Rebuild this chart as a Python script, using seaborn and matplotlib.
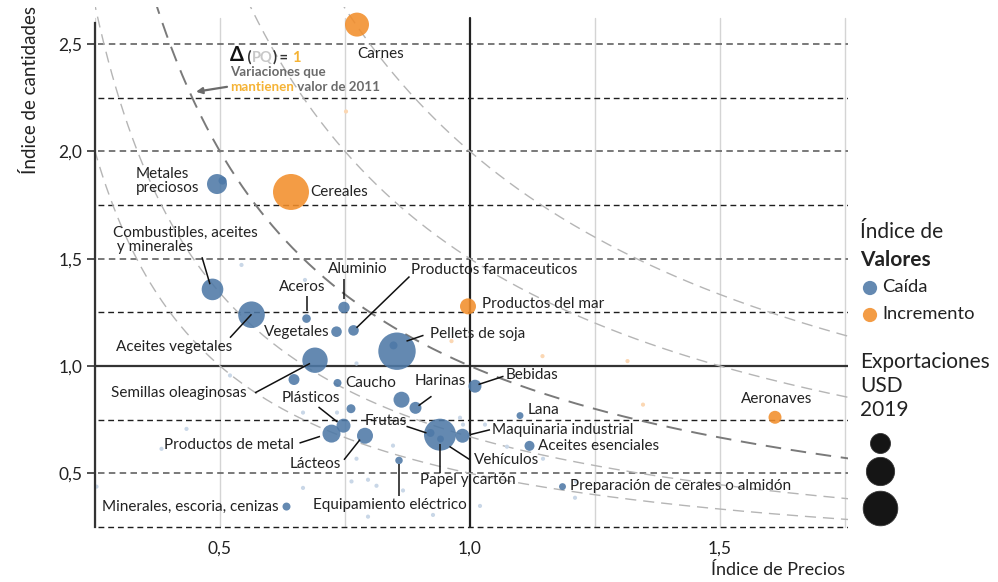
import numpy as np
import pandas as pd
import matplotlib
matplotlib.use("Agg")
import matplotlib.pyplot as plt
import seaborn as sns

# ---------------- data ----------------
productos = ["Carnes", "Metales preciosos", "Metales (otros)", "Cereales",
             "Combustibles, aceites y minerales", "Aceites vegetales", "Aceros",
             "Aluminio", "Vegetales", "Productos farmaceuticos", "Pellets de soja",
             "Pellets (otros)", "Semillas oleaginosas", "Otros A", "Caucho", "Otros B",
             "Harinas", "Otros C", "Plásticos", "Productos de metal", "Lácteos",
             "Equipamiento eléctrico", "Minerales, escoria, cenizas", "Vehículos",
             "Frutas", "Papel y cartón", "Maquinaria industrial", "Bebidas", "Lana",
             "Aceites esenciales", "Preparación de cerales o almidón", "Aeronaves",
             "Productos del mar"]
precios = [0.774, 0.494, 0.505, 0.642, 0.485, 0.563, 0.673, 0.748, 0.733, 0.767,
           0.854, 0.847, 0.690, 0.648, 0.735, 0.863, 0.891, 0.762, 0.747, 0.723,
           0.790, 0.858, 0.633, 0.940, 0.921, 0.941, 0.985, 1.010, 1.100, 1.119,
           1.185, 1.610, 0.996]
cantidades = [2.591, 1.848, 1.864, 1.811, 1.357, 1.239, 1.221, 1.273, 1.160, 1.166,
              1.069, 1.096, 1.027, 0.937, 0.921, 0.843, 0.805, 0.801, 0.722, 0.685,
              0.675, 0.560, 0.345, 0.680, 0.688, 0.660, 0.675, 0.906, 0.769, 0.628,
              0.438, 0.761, 1.278]
exportaciones = [1440, 1000, 160, 3240, 1170, 1770, 185, 325, 280, 280,
                 3500, 160, 1610, 300, 160, 640, 360, 200, 490, 810,
                 640, 140, 160, 2560, 160, 120, 490, 420, 120, 250,
                 120, 420, 640]
tendencia = ["Incremento", "Caída", "Caída", "Incremento", "Caída", "Caída", "Caída",
             "Caída", "Caída", "Caída", "Caída", "Caída", "Caída", "Caída", "Caída",
             "Caída", "Caída", "Caída", "Caída", "Caída", "Caída", "Caída", "Caída",
             "Caída", "Caída", "Caída", "Caída", "Caída", "Caída", "Caída", "Caída",
             "Incremento", "Incremento"]

# minor products (faint dots)
menores_precio = [0.752, 0.543, 0.670, 0.773, 0.963, 1.145, 1.315, 0.520, 0.433, 0.383,
                  0.666, 0.734, 0.773, 0.846, 0.980, 0.986, 0.666, 0.763, 0.796, 0.813,
                  0.866, 0.926, 0.796, 0.253, 1.030, 1.074, 1.146, 1.212, 1.210, 1.020,
                  1.346]
menores_cantidad = [2.186, 1.471, 1.401, 1.012, 1.116, 1.046, 1.023, 0.956, 0.707, 0.614,
                    0.783, 0.783, 0.568, 0.629, 0.759, 0.727, 0.432, 0.462, 0.470, 0.442,
                    0.420, 0.306, 0.298, 0.438, 0.727, 0.624, 0.568, 0.462, 0.386, 0.348,
                    0.820]
menores_tendencia = ["Incremento", "Caída", "Caída", "Caída", "Incremento", "Incremento",
                     "Incremento", "Caída", "Caída", "Caída", "Caída", "Caída", "Caída",
                     "Caída", "Caída", "Caída", "Caída", "Caída", "Caída", "Caída", "Caída",
                     "Caída", "Caída", "Caída", "Caída", "Caída", "Caída", "Caída", "Caída",
                     "Caída", "Incremento"]

niveles_pq = [0.5, 0.67, 1.0, 1.5, 2.0]
xticks = [0.5, 1.0, 1.5]
xtick_labels = ["0,5", "1,0", "1,5"]
yticks = [0.5, 1.0, 1.5, 2.0, 2.5]
ytick_labels = ["0,5", "1,0", "1,5", "2,0", "2,5"]
legend_sizes = [1000, 2000, 3000]

df = pd.DataFrame({"producto": productos, "precio": precios, "cantidad": cantidades,
                   "exportaciones": exportaciones, "tendencia": tendencia})
df_men = pd.DataFrame({"precio": menores_precio, "cantidad": menores_cantidad,
                       "tendencia": menores_tendencia})

# ---------------- style ----------------
sns.set_theme(style="white")
plt.rcParams["font.family"] = ["Lato", "DejaVu Sans"]
TXT = "#222222"
BLUE = "#4e79a7"
ORANGE = "#f28e2b"
pal = {"Caída": BLUE, "Incremento": ORANGE}
pal_faint = {"Caída": "#c9d7e7", "Incremento": "#fbd7b3"}

W, H = 998, 582
fig = plt.figure(figsize=(W / 100, H / 100), dpi=100)
ax = fig.add_axes([95 / W, (H - 529.1) / H, 753 / W, 522.1 / H])
XMIN, XMAX, YMIN, YMAX = 0.25, 1.756, 0.24, 2.673
ax.set_xlim(XMIN, XMAX)
ax.set_ylim(YMIN, YMAX)

# grid
for gx in np.arange(0.25, 1.76, 0.25):
    if abs(gx - 1.0) < 1e-9:
        continue
    ax.plot([gx, gx], [0.25, 2.62], color="#d4d4d4", lw=1.0, zorder=0.5)
for gy in np.arange(0.25, 2.51, 0.25):
    if abs(gy - 1.0) < 1e-9:
        continue
    major = abs(gy * 2 - round(gy * 2)) < 1e-9
    ax.plot([0.255, XMAX], [gy, gy], color="#6e6e6e" if major else "#1e1e1e",
            lw=1.3 if major else 1.0, dashes=(3.6, 2.4) if major else (4.2, 2.8), zorder=0.6)
ax.plot([0.25, XMAX], [1.0, 1.0], color="#333333", lw=1.6, zorder=0.7)
ax.plot([1.0, 1.0], [0.25, 2.62], color="#222222", lw=1.6, zorder=0.7)

# iso-value curves
xs = np.linspace(0.2, 1.8, 400)
for lv in niveles_pq:
    if lv == 1.0:
        ax.plot(xs, lv / xs, color="#7a7a7a", lw=1.4, dashes=(8, 5), zorder=0.8)
    else:
        ax.plot(xs, lv / xs, color="#b5b5b5", lw=1.0, dashes=(8, 5), zorder=0.8)

# faint minor products
sns.scatterplot(data=df_men, x="precio", y="cantidad", hue="tendencia", palette=pal_faint,
                s=9, linewidth=0, legend=False, ax=ax, zorder=1)

# leader lines
lineas = [
    ((0.464, 1.507), (0.480, 1.381)),
    ((0.520, 1.132), (0.563, 1.241)),
    ((0.673, 1.326), (0.673, 1.256)),
    ((0.747, 1.404), (0.747, 1.311)),
    ((0.879, 1.417), (0.773, 1.178)),
    ((0.907, 1.143), (0.873, 1.116)),
    ((0.570, 0.875), (0.680, 1.012)),
    ((0.923, 0.859), (0.897, 0.815)),
    ((0.697, 0.809), (0.735, 0.739)),
    ((0.659, 0.641), (0.700, 0.672)),
    ((0.748, 0.563), (0.780, 0.657)),
    ((0.858, 0.392), (0.858, 0.544)),
    ((0.873, 0.719), (0.913, 0.688)),
    ((0.940, 0.501), (0.940, 0.638)),
    ((0.959, 0.625), (1.000, 0.563)),
    ((1.000, 0.680), (1.040, 0.703)),
    ((1.017, 0.914), (1.067, 0.952)),
]
for (x1, y1), (x2, y2) in lineas:
    ax.plot([x1, x2], [y1, y2], color="#111111", lw=1.1, zorder=3, solid_capstyle="butt")

# main bubbles
sns.scatterplot(data=df, x="precio", y="cantidad", hue="tendencia", palette=pal,
                size="exportaciones", sizes=(0, 725), size_norm=(0, 3500),
                alpha=0.88, edgecolor="none", linewidth=0, legend=False, ax=ax,
                zorder=2, clip_on=False)

# spines / ticks (after seaborn, which sets labels)
for s in ["top", "right", "bottom"]:
    ax.spines[s].set_visible(False)
ax.spines["left"].set_color("#333333")
ax.spines["left"].set_linewidth(1.6)
ax.spines["left"].set_bounds(0.25, 2.6)
ax.set_xticks(xticks)
ax.set_xticklabels(xtick_labels)
ax.set_yticks(yticks)
ax.set_yticklabels(ytick_labels)
ax.tick_params(axis="y", length=6, width=1.2, color="#333333", labelsize=12.5,
               labelcolor=TXT, pad=3, left=True)
ax.tick_params(axis="x", length=0, labelsize=12.5, labelcolor=TXT, pad=8)
ax.set_xlabel("")
ax.set_ylabel("")
ax.set_xlim(XMIN, XMAX)
ax.set_ylim(YMIN, YMAX)

# labels
etiquetas = [
    ("Carnes", 0.822, 2.456, "center"),
    ("Metales\npreciosos", 0.332, 1.862, "left"),
    ("Cereales", 0.680, 1.811, "left"),
    ("Combustibles, aceites\n y minerales", 0.286, 1.586, "left"),
    ("Aceites vegetales", 0.292, 1.088, "left"),
    ("Aceros", 0.665, 1.370, "center"),
    ("Aluminio", 0.775, 1.451, "center"),
    ("Vegetales", 0.720, 1.158, "right"),
    ("Productos farmaceuticos", 0.882, 1.448, "left"),
    ("Pellets de soja", 0.919, 1.147, "left"),
    ("Productos del mar", 1.025, 1.287, "left"),
    ("Semillas oleaginosas", 0.281, 0.875, "left"),
    ("Caucho", 0.750, 0.921, "left"),
    ("Harinas", 0.890, 0.929, "left"),
    ("Plásticos", 0.623, 0.851, "left"),
    ("Productos de metal", 0.648, 0.633, "right"),
    ("Lácteos", 0.741, 0.543, "right"),
    ("Equipamiento eléctrico", 0.685, 0.350, "left"),
    ("Minerales, escoria, cenizas", 0.617, 0.345, "right"),
    ("Frutas", 0.790, 0.742, "left"),
    ("Papel y cartón", 0.900, 0.470, "left"),
    ("Vehículos", 1.007, 0.563, "left"),
    ("Maquinaria industrial", 1.043, 0.703, "left"),
    ("Aceites esenciales", 1.135, 0.628, "left"),
    ("Bebidas", 1.072, 0.956, "left"),
    ("Lana", 1.115, 0.797, "left"),
    ("Preparación de cerales o almidón", 1.199, 0.442, "left"),
    ("Aeronaves", 1.613, 0.847, "center"),
]
for t, x, y, ha in etiquetas:
    ax.text(x, y, t, ha=ha, va="center", fontsize=11, color=TXT, zorder=4,
            linespacing=1.0)

# Delta(PQ)=1 annotation
t0 = ax.text(0.520, 2.451, "Δ", fontsize=14.5, fontweight="bold", color="#111111",
             va="center", ha="left", zorder=4)
parts = [(" (", "#333333"), ("PQ", "#c8c8c8"), (")", "#333333"), (" = ", "#333333"), ("1", "#f5b335")]
prev = t0
for s, c in parts:
    prev = ax.annotate(s, xy=(1, 0), xycoords=prev, va="bottom", ha="left",
                       fontsize=10.5, fontweight="bold", color=c, zorder=4)
ax.text(0.520, 2.371, "Variaciones que", fontsize=9.6, fontweight="bold",
        color="#6b6b6b", va="center", ha="left", zorder=4)
t1 = ax.text(0.520, 2.301, "mantienen", fontsize=9.6, fontweight="bold",
             color="#f5b335", va="center", ha="left", zorder=4)
ax.annotate(" valor de 2011", xy=(1, 0), xycoords=t1, va="bottom", ha="left",
            fontsize=9.6, fontweight="bold", color="#6b6b6b", zorder=4)
ax.annotate("", xy=(0.452, 2.278), xytext=(0.514, 2.301),
            arrowprops=dict(arrowstyle="-|>", color="#6b6b6b", lw=1.6,
                            mutation_scale=9, shrinkA=0, shrinkB=0), zorder=4)

# axis titles
fig.text(30 / W, 1 - 90 / H, "Índice de cantidades", rotation=90, ha="center",
         va="center", fontsize=13.5, color=TXT)
fig.text(845 / W, 1 - 570 / H, "Índice de Precios", ha="right", va="center",
         fontsize=13, color=TXT)

# legend (manual)
lax = fig.add_axes([0, 0, 1, 1], facecolor="none")
lax.set_xlim(0, W)
lax.set_ylim(H, 0)
lax.axis("off")
lax.text(860, 232, "Índice de", fontsize=15, color=TXT, va="center", ha="left")
lax.text(860, 260, "Valores", fontsize=15, fontweight="bold", color=TXT,
         va="center", ha="left")
lax.scatter([870], [288], s=105, color=BLUE, alpha=0.88, edgecolor="none")
lax.scatter([870], [315], s=105, color=ORANGE, alpha=0.88, edgecolor="none")
lax.text(882, 287, "Caída", fontsize=13.2, color=TXT, va="center", ha="left")
lax.text(882, 314, "Incremento", fontsize=13.2, color=TXT, va="center", ha="left")
lax.text(860, 362, "Exportaciones", fontsize=15, color=TXT, va="center", ha="left")
lax.text(860, 386, "USD", fontsize=15, color=TXT, va="center", ha="left")
lax.text(860, 410, "2019", fontsize=15, color=TXT, va="center", ha="left")
for v, yy in zip(legend_sizes, [443, 471, 508]):
    lax.scatter([880.5], [yy], s=725 * v / 3500, color="#151515", edgecolor="#333333",
                linewidth=0.6)

fig.savefig("out.png", dpi=100)
